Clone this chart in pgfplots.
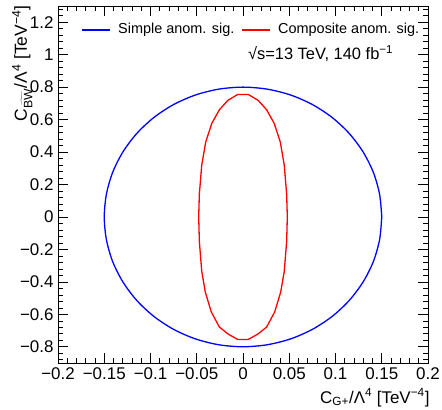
\documentclass[border=0pt]{standalone}
\usepackage{fontspec}
\setmainfont{Liberation Sans}
\usepackage{pgfplots}
\pgfplotsset{compat=1.18}
\begin{document}
\begin{tikzpicture}
\begin{axis}[name=ax, scale only axis, width=370bp, height=357bp,
  xmin=-0.2, xmax=0.2, ymin=-0.9, ymax=1.3,
  xtick={-0.2,-0.15,-0.1,-0.05,0,0.05,0.1,0.15,0.2},
  xticklabels={−0.2,−0.15,−0.1,−0.05,0,0.05,0.1,0.15,0.2},
  ytick={-0.8,-0.6,-0.4,-0.2,0,0.2,0.4,0.6,0.8,1,1.2},
  yticklabels={−0.8,−0.6,−0.4,−0.2,0,0.2,0.4,0.6,0.8,1,1.2},
  minor xtick={-0.19,-0.18,...,0.195},
  minor ytick={-0.88,-0.84,...,1.29},
  tick align=inside, major tick length=10bp, minor tick length=5bp,
  tick style={black, line width=0.6pt},
  axis line style={line width=0.8pt},
  xticklabel style={font=\fontsize{17}{20}\selectfont, yshift=-1bp},
  yticklabel style={font=\fontsize{17}{20}\selectfont, xshift=-1bp},
  xlabel={C\textsubscript{G+}/Λ\textsuperscript{4} [TeV\textsuperscript{−4}]},
  ylabel={C\textsubscript{$\widetilde{\mbox{BW}}$}/Λ\textsuperscript{4} [TeV\textsuperscript{−4}]},
  xlabel style={at={([xshift=5bp,yshift=-40bp]rel axis cs:1,0)}, anchor=base east, font=\fontsize{17}{20}\selectfont},
  ylabel style={at={([xshift=-22bp,yshift=4bp]rel axis cs:0,1)}, anchor=south east, font=\fontsize{17.5}{20}\selectfont},
]
\addplot[blue, line width=1.3bp, smooth] coordinates {
(0.15,0) (0.1477,0.1389) (0.1410,0.2736) (0.1299,0.4000) (0.1149,0.5142) (0.0964,0.6128) (0.0750,0.6928) (0.0513,0.7518) (0.0260,0.7878) (0,0.80)
(-0.0260,0.7878) (-0.0513,0.7518) (-0.0750,0.6928) (-0.0964,0.6128) (-0.1149,0.5142) (-0.1299,0.4000) (-0.1410,0.2736) (-0.1477,0.1389) (-0.15,0)
(-0.1477,-0.1389) (-0.1410,-0.2736) (-0.1299,-0.4000) (-0.1149,-0.5142) (-0.0964,-0.6128) (-0.0750,-0.6928) (-0.0513,-0.7518) (-0.0260,-0.7878) (0,-0.80)
(0.0260,-0.7878) (0.0513,-0.7518) (0.0750,-0.6928) (0.0964,-0.6128) (0.1149,-0.5142) (0.1299,-0.4000) (0.1410,-0.2736) (0.1477,-0.1389) (0.15,0)
};
\addplot[red, line width=1.3bp] coordinates {
(0.0057,0.755) (0.0165,0.718) (0.0256,0.660) (0.0338,0.576) (0.0403,0.462) (0.0446,0.320) (0.0472,0.140) (0.0479,0.0)
(0.0472,-0.150) (0.0446,-0.335) (0.0408,-0.462) (0.0343,-0.585) (0.0256,-0.678) (0.0165,-0.720) (0.0057,-0.755)
(-0.0057,-0.755) (-0.0165,-0.720) (-0.0256,-0.678) (-0.0343,-0.585) (-0.0408,-0.462) (-0.0446,-0.335) (-0.0472,-0.150)
(-0.0479,0.0) (-0.0472,0.140) (-0.0446,0.320) (-0.0403,0.462) (-0.0338,0.576) (-0.0256,0.660) (-0.0165,0.718) (-0.0057,0.755) (0.0057,0.755)
};
% legend keys
\draw[blue, line width=1.3bp] (rel axis cs:0.065,0.9328) -- (rel axis cs:0.1405,0.9328);
\node[anchor=west, inner sep=0pt, font=\fontsize{14.5}{17}\selectfont] at (rel axis cs:0.1622,0.9328) {Simple anom. sig.};
\draw[red, line width=1.3bp] (rel axis cs:0.4973,0.9328) -- (rel axis cs:0.5730,0.9328);
\node[anchor=west, inner sep=0pt, font=\fontsize{14.5}{17}\selectfont] at (rel axis cs:0.5946,0.9328) {Composite anom. sig.};
\node[anchor=east, font=\fontsize{16.5}{19}\selectfont] at (rel axis cs:0.915,0.866) {√s=13 TeV, 140 fb\textsuperscript{−1}};
\end{axis}
\pgfresetboundingbox
\path ([shift={(-58bp,-47bp)}]ax.south west) rectangle ([shift={(14bp,6bp)}]ax.north east);
\end{tikzpicture}
\end{document}
